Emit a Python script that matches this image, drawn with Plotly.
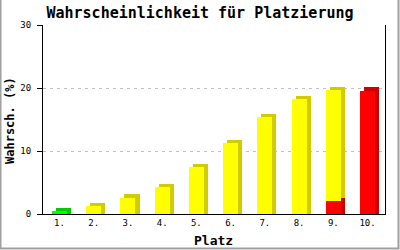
import numpy as np
import plotly.graph_objects as go

# ---- data ----
places = [1, 2, 3, 4, 5, 6, 7, 8, 9, 10]
place_labels = ["1.", "2.", "3.", "4.", "5.", "6.", "7.", "8.", "9.", "10."]
green_vals = [0.5, 0, 0, 0, 0, 0, 0, 0, 0, 0]
yellow_vals = [0, 1.3, 2.6, 4.3, 7.4, 11.3, 15.4, 18.3, 17.7, 0]
red_vals = [0, 0, 0, 0, 0, 0, 0, 0, 2.0, 19.6]
y_ticks = [0, 10, 20, 30]

# ---- style ----
W, H = 400, 250
ML, MR, MT, MB = 43, 15, 25, 36
BW = 0.44        # front width (category units)
DX = 0.12        # 3d depth, x (category units)
DY = 0.5         # 3d depth, y (value units)
MONO = "DejaVu Sans Mono"

g = np.array(green_vals, float)
yl = np.array(yellow_vals, float)
r = np.array(red_vals, float)

fig = go.Figure()

def back(base, height, color):
    base = np.asarray(base, float)
    height = np.asarray(height, float)
    top = np.where(height > 0, base + height + DY, 0)
    b = np.where(base > 0, base + DY, 0)
    fig.add_trace(go.Bar(x=places, y=np.where(height > 0, top - b, 0), base=b,
                         width=BW, offset=-BW / 2 + DX,
                         marker=dict(color=color, line=dict(width=0)),
                         hoverinfo="skip", showlegend=False))

def front(base, height, color):
    fig.add_trace(go.Bar(x=places, y=height, base=base,
                         width=BW, offset=-BW / 2,
                         marker=dict(color=color, line=dict(width=0)),
                         showlegend=False))

# back (side/top) faces
back(np.zeros(10), r, "#CC0000")
back(np.zeros(10), g, "#00CC00")
back(r, yl, "#D0CC00")
# front faces
front(np.zeros(10), r, "#FF0000")
front(np.zeros(10), g, "#00FF00")
front(r, yl, "#FFFF00")

pw = W - ML - MR
ph = H - MT - MB

fig.update_layout(
    width=W, height=H,
    margin=dict(l=ML, r=MR, t=MT, b=MB),
    paper_bgcolor="white", plot_bgcolor="white",
    barmode="overlay", bargap=0,
    title=dict(text="<b>Wahrscheinlichkeit für Platzierung</b>",
               font=dict(family=MONO, size=15, color="black"),
               x=0.5, xanchor="center", y=1 - 13 / H, yanchor="middle",
               xref="container", yref="container"),
    xaxis=dict(range=[0.52, 10.51], tickmode="array", tickvals=places,
               ticktext=place_labels, showline=True, linecolor="black",
               linewidth=1, ticks="", showgrid=False, zeroline=False,
               tickfont=dict(family=MONO, size=9, color="black"),
               fixedrange=True),
    yaxis=dict(range=[0, 30], tickmode="array", tickvals=y_ticks,
               showline=True, linecolor="black", linewidth=1, mirror=True,
               ticks="outside", ticklen=5, tickcolor="black",
               ticklabelstandoff=4,
               showgrid=True, gridcolor="#C0C0C0", griddash="3px,4px",
               gridwidth=1, zeroline=False,
               tickfont=dict(family=MONO, size=9, color="black"),
               fixedrange=True),
    annotations=[
        dict(text="<b>Wahrsch. (%)</b>", textangle=-90,
             xref="paper", yref="paper",
             x=(10 - ML) / pw, y=(H - MB - 121) / ph,
             xanchor="center", yanchor="middle", showarrow=False,
             font=dict(family=MONO, size=12, color="black")),
        dict(text="<b>Platz</b>", xref="paper", yref="paper",
             x=(213 - ML) / pw, y=(H - MB - 240) / ph,
             xanchor="center", yanchor="middle", showarrow=False,
             font=dict(family=MONO, size=13, color="black")),
    ],
    shapes=[
        dict(type="rect", xref="paper", yref="paper",
             x0=(0.5 - ML) / pw, x1=(398.5 - ML) / pw,
             y0=(H - MB - 248.5) / ph, y1=(H - MB + 2) / ph,
             line=dict(color="#A0A0A0", width=2), fillcolor="rgba(0,0,0,0)",
             layer="above"),
    ],
)

fig.write_html("out.html")
